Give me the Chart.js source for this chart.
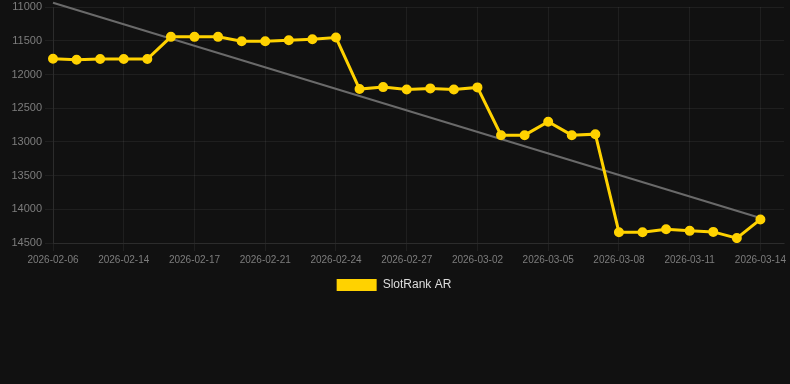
<!DOCTYPE html>
<html>
<head>
<meta charset="utf-8">
<script src="https://cdn.jsdelivr.net/npm/chart.js"></script>
<style>
    html, body { margin: 0; padding: 0; background: #111111; }
    #wrap { position: relative; width: 790px; height: 301px; }
</style>
</head>
<body>
<div id="wrap"><canvas id="rank_chart"></canvas></div>
<script>
// dates on the x axis (last slot is left empty, as in the original)
const dates = [
    '2026-02-06', '2026-02-09', '2026-02-12', '2026-02-14', '2026-02-15', '2026-02-16',
    '2026-02-17', '2026-02-18', '2026-02-20', '2026-02-21', '2026-02-22', '2026-02-23',
    '2026-02-24', '2026-02-25', '2026-02-26', '2026-02-27', '2026-02-28', '2026-03-01',
    '2026-03-02', '2026-03-03', '2026-03-04', '2026-03-05', '2026-03-06', '2026-03-07',
    '2026-03-08', '2026-03-09', '2026-03-10', '2026-03-11', '2026-03-12', '2026-03-13',
    '2026-03-14', ''
];

// rank per day
const ranks = [
    11765, 11780, 11770, 11770, 11770, 11441, 11441, 11441, 11506, 11506, 11491,
    11476, 11451, 12216, 12187, 12221, 12206, 12221, 12191, 12900, 12900, 12700,
    12900, 12885, 14340, 14340, 14296, 14320, 14335, 14427, 14150
];

// trend line end points (first and last day)
const trendStart = 10935;
const trendEnd = 14130;

const yTicks = { min: 11000, max: 14500, step: 500 };

const trendData = dates.map((d, i) => {
    if (i === 0) return trendStart;
    if (i === ranks.length - 1) return trendEnd;
    return null;
});

const tickColor = '#7d7d7d';
const gridColor = 'rgba(255, 255, 255, 0.06)';
const fontFamily = 'Liberation Sans, Arial, sans-serif';

const chartOptions = {
    responsive: true,
    maintainAspectRatio: false,
    animation: false,
    layout: {
        padding: { right: 2 }
    },
    plugins: {
        legend: {
            position: 'bottom',
            labels: {
                color: '#dddddd',
                boxWidth: 40,
                boxHeight: 12,
                font: { family: fontFamily, size: 12 },
                generateLabels: (chart) => Chart.defaults.plugins.legend.labels
                    .generateLabels(chart)
                    .filter(item => item.datasetIndex === 0)
                    .map(item => ({ ...item, lineWidth: 0 }))
            }
        },
        tooltip: { enabled: false }
    },
    scales: {
        x: {
            grid: { color: gridColor },
            border: { color: gridColor },
            ticks: {
                color: tickColor,
                maxRotation: 0,
                font: { family: fontFamily, size: 10 }
            }
        },
        y: {
            reverse: true,
            min: yTicks.min,
            max: yTicks.max,
            afterFit: (scale) => { scale.width = 53; },
            grid: { color: gridColor },
            border: { color: gridColor },
            ticks: {
                stepSize: yTicks.step,
                color: tickColor,
                font: { family: fontFamily, size: 11, lineHeight: 0.75 },
                callback: (value) => String(value)
            }
        }
    }
};

const chartData = {
    labels: dates,
    datasets: [
        {
            label: 'SlotRank AR',
            data: ranks,
            borderColor: '#ffd200',
            backgroundColor: '#ffd200',
            borderWidth: 3,
            pointRadius: 4,
            pointBorderWidth: 2,
            pointBackgroundColor: '#ffd200',
            pointBorderColor: '#ffd200',
            tension: 0
        },
        {
            label: 'Trend',
            data: trendData,
            borderColor: '#6a6a6a',
            borderWidth: 2,
            pointRadius: 0,
            spanGaps: true,
            clip: false,
            tension: 0
        }
    ]
};

new Chart(document.getElementById('rank_chart'), {
    type: 'line',
    data: chartData,
    options: chartOptions
});
</script>
</body>
</html>
